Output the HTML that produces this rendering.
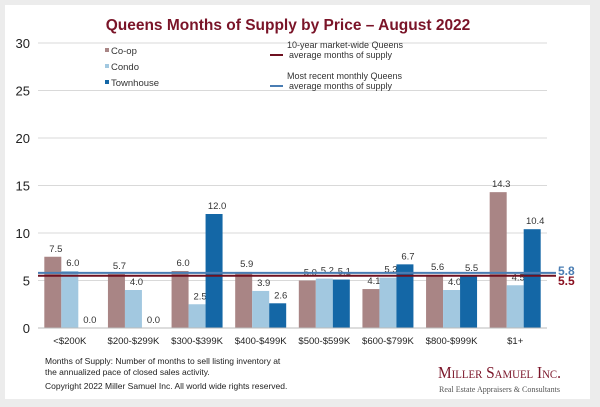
<!DOCTYPE html>
<html><head><meta charset="utf-8"><style>
body{margin:0;background:#ececec;font-family:"Liberation Sans",Arial,sans-serif;}
#card{position:absolute;left:5px;top:5px;width:585px;height:394px;background:#fff;}
svg{position:absolute;left:0;top:0}
</style></head><body>
<div id="card"></div>
<svg id="chart" width="600" height="407"></svg>
<script>
const categories=["<$200K","$200-$299K","$300-$399K","$400-$499K","$500-$599K","$600-$799K","$800-$999K","$1+"];
const coop=[7.5,5.7,6.0,5.9,5.0,4.1,5.6,14.3];
const condo=[6.0,4.0,2.5,3.9,5.2,5.3,4.0,4.5];
const townhouse=[0.0,0.0,12.0,2.6,5.1,6.7,5.5,10.4];
const yTicks=[0,5,10,15,20,25,30];
const avg10=5.5, recent=5.8;
const NS="http://www.w3.org/2000/svg";
const svg=document.getElementById('chart');
const X0=38,X1=547,Y0=328,Y1=43,YMAX=30;
const y=v=>Y0-(v/YMAX)*(Y0-Y1);
const bw=(X1-X0)/categories.length;
function el(t,a,txt){const e=document.createElementNS(NS,t);for(const k in a)e.setAttribute(k,a[k]);if(txt!==undefined)e.textContent=txt;svg.appendChild(e);return e;}
let t=el('text',{x:288,y:30,'text-anchor':'middle','font-size':15.5,'font-weight':'bold',fill:'#7a1428'},'Queens Months of Supply by Price – August 2022');

yTicks.forEach(v=>{
 let g=el('line',{x1:X0,x2:X1,y1:y(v),y2:y(v),stroke:'#d9d9d9','stroke-width':1});
 
 let l=el('text',{x:30,y:y(v)+5,'text-anchor':'end','font-size':13,fill:'#222'},String(v));
 
});
const series=[[coop,'#a98585','coop'],[condo,'#a2c8e0','condo'],[townhouse,'#1467a6','townhouse']];
const barW=17;
categories.forEach((c,i)=>{
 const cx=X0+bw*i+bw/2;
 series.forEach((s,j)=>{
  const v=s[0][i];const bx=cx-1.5*barW+j*barW;
  let r=el('rect',{x:bx,y:y(v),width:barW,height:Y0-y(v),fill:s[1]});
  
  let l=el('text',{x:bx+barW/2+3,y:y(v)-5,'text-anchor':'middle','font-size':9.5,fill:'#333'},v.toFixed(1));
  
 });
 let l=el('text',{x:cx,y:Y0+16,'text-anchor':'middle','font-size':9.5,fill:'#222'},c);
 
});
let ax=el('line',{x1:X0,x2:X1,y1:Y0,y2:Y0,stroke:'#bbb'});
let rl=el('line',{x1:X0,x2:556,y1:y(recent),y2:y(recent),stroke:'#4a7db3','stroke-width':2});

let al=el('line',{x1:X0,x2:556,y1:y(avg10),y2:y(avg10),stroke:'#6e1020','stroke-width':2});

let t1=el('text',{x:558,y:y(recent)+2,'font-size':12,'font-weight':'bold',fill:'#4a7db3'},recent.toFixed(1));

let t2=el('text',{x:558,y:y(avg10)+9,'font-size':12,'font-weight':'bold',fill:'#8a1020'},avg10.toFixed(1));

[['Co-op','#a98585'],['Condo','#a2c8e0'],['Townhouse','#1467a6']].forEach((s,i)=>{
 let r=el('rect',{x:105,y:48+i*16,width:4,height:4,fill:s[1]});
 let l=el('text',{x:111,y:54+i*16,'font-size':9.5,fill:'#333'},s[0]);
});
let lg1=el('line',{x1:270,x2:283,y1:55,y2:55,stroke:'#6e1020','stroke-width':2});
let lg2=el('line',{x1:270,x2:283,y1:86,y2:86,stroke:'#4a7db3','stroke-width':2});
[['10-year market-wide Queens',48],['average months of supply',58],['Most recent monthly Queens',79],['average months of supply',89]].forEach(s=>{
 let l=el('text',{x:s[0].startsWith('average')?289:287,y:s[1],'font-size':9,fill:'#333'},s[0]);
});
[['Months of Supply: Number of months to sell listing inventory at',364],['the annualized pace of closed sales activity.',375],['Copyright 2022 Miller Samuel Inc.  All world wide rights reserved.',389]].forEach(s=>{
 let l=el('text',{x:45,y:s[1],'font-size':8.5,fill:'#222'},s[0]);
});
let b1=el('text',{x:438,y:378,'font-size':17,'font-variant':'small-caps',fill:'#7a1428','font-family':'Liberation Serif,serif',textLength:123,lengthAdjust:'spacingAndGlyphs'},'Miller Samuel Inc.');
let b2=el('text',{x:439,y:392,'font-size':8.5,fill:'#555','font-family':'Liberation Serif,serif',textLength:121,lengthAdjust:'spacingAndGlyphs'},'Real Estate Appraisers & Consultants');
</script>
</body></html>
